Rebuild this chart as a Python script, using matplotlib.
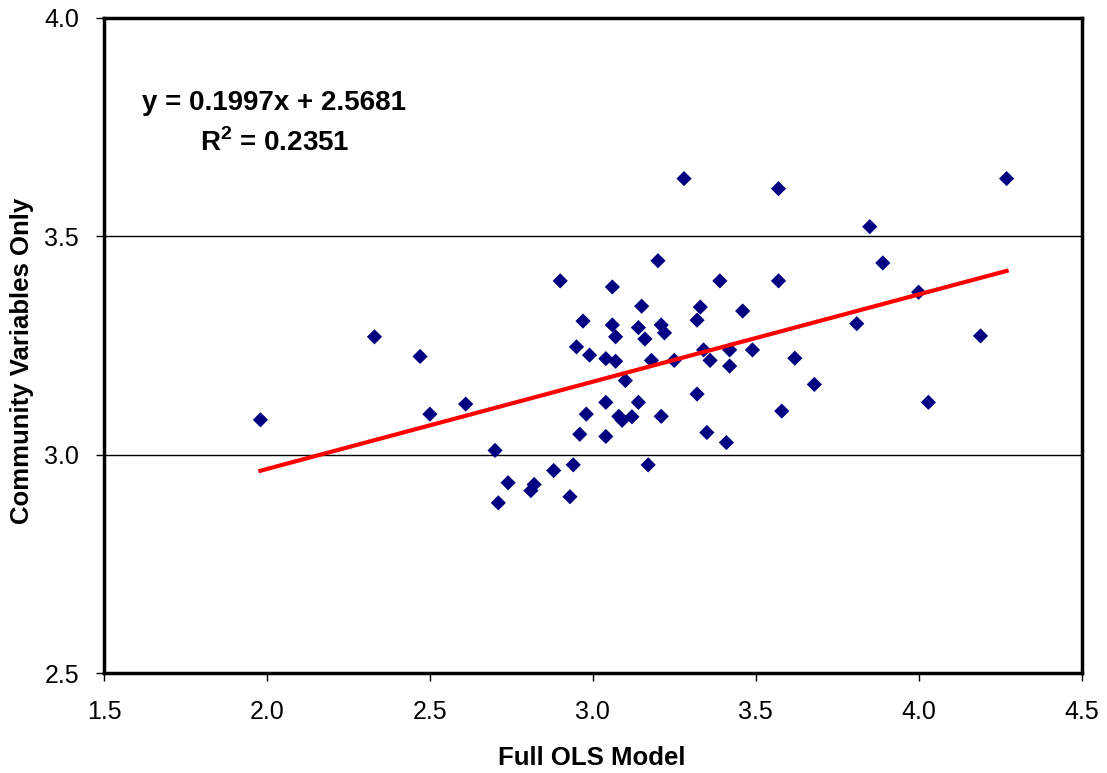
import numpy as np
import matplotlib
matplotlib.use("Agg")
import matplotlib.pyplot as plt

plt.rcParams['font.family'] = ['Liberation Sans', 'DejaVu Sans']
plt.rcParams['mathtext.fontset'] = 'custom'
plt.rcParams['mathtext.rm'] = 'Liberation Sans'
plt.rcParams['mathtext.bf'] = 'Liberation Sans:bold'

# Full OLS Model (x) vs Community Variables Only (y)
x_vals = [1.98, 2.33, 2.47, 2.50, 2.61, 2.70, 2.71, 2.74, 2.81, 2.82, 2.88, 2.90,
          2.93, 2.94, 2.95, 2.97, 2.96, 2.98, 2.99, 3.04, 3.04, 3.04, 3.06, 3.06,
          3.07, 3.07, 3.08, 3.09, 3.10, 3.12, 3.14, 3.14, 3.15, 3.16, 3.17, 3.18,
          3.20, 3.21, 3.21, 3.22, 3.25, 3.28, 3.32, 3.32, 3.33, 3.34, 3.35, 3.36,
          3.39, 3.41, 3.42, 3.42, 3.46, 3.49, 3.57, 3.57, 3.58, 3.62, 3.68, 3.81,
          3.85, 3.89, 4.00, 4.03, 4.19, 4.27]
y_vals = [3.08, 3.27, 3.225, 3.093, 3.116, 3.01, 2.89, 2.936, 2.918, 2.932, 2.964, 3.398,
          2.904, 2.977, 3.247, 3.306, 3.047, 3.093, 3.228, 3.042, 3.12, 3.22, 3.297, 3.384,
          3.214, 3.27, 3.088, 3.079, 3.17, 3.087, 3.291, 3.12, 3.34, 3.265, 2.977, 3.216,
          3.444, 3.088, 3.297, 3.279, 3.216, 3.632, 3.308, 3.139, 3.338, 3.24, 3.051, 3.216,
          3.398, 3.028, 3.24, 3.203, 3.329, 3.24, 3.398, 3.609, 3.10, 3.221, 3.161, 3.30,
          3.522, 3.439, 3.372, 3.12, 3.272, 3.632]

slope = 0.1997
intercept = 2.5681
r_squared = 0.2351

x_ticks = [1.5, 2.0, 2.5, 3.0, 3.5, 4.0, 4.5]
y_ticks = [2.5, 3.0, 3.5, 4.0]

fig = plt.figure(figsize=(11.07, 7.73), dpi=100)
ax = fig.add_axes([0.094, 0.129, 0.883, 0.848])

for yv in y_ticks[1:-1]:
    ax.axhline(yv, color='black', linewidth=1.0, zorder=1)

ax.scatter(x_vals, y_vals, marker='D', s=60, color='#000080', edgecolors='none', zorder=3)

xl = np.array([min(x_vals), max(x_vals)])
ax.plot(xl, slope * xl + intercept, color='#ff0000', linewidth=3, zorder=4)

ax.set_xlim(1.5, 4.5)
ax.set_ylim(2.5, 4.0)
ax.set_xticks(x_ticks)
ax.set_yticks(y_ticks)
ax.set_xticklabels([f"{t:.1f}" for t in x_ticks])
ax.set_yticklabels([f"{t:.1f}" for t in y_ticks])
ax.tick_params(axis='both', direction='out', length=6, width=1, labelsize=18)
ax.tick_params(axis='x', pad=13)
ax.tick_params(axis='y', pad=12)
for sp in ax.spines.values():
    sp.set_linewidth(2.5)
    sp.set_color('black')

fig.text(592 / 1107, 1 - 758 / 773, 'Full OLS Model', ha='center', va='center',
         fontsize=18.5, fontweight='bold')
fig.text(22 / 1107, 1 - 361 / 773, 'Community Variables Only', ha='center', va='center',
         rotation=90, fontsize=18.5, fontweight='bold')

fig.text(274 / 1107, 1 - 103 / 773, f"y = {slope:.4f}x + {intercept:.4f}",
         ha='center', va='center', fontsize=20, fontweight='bold')
fig.text(275 / 1107, 1 - 143 / 773, r"R$^{\mathbf{2}}$" + f" = {r_squared:.4f}",
         ha='center', va='center', fontsize=20, fontweight='bold')

fig.savefig('out.png', dpi=100)
